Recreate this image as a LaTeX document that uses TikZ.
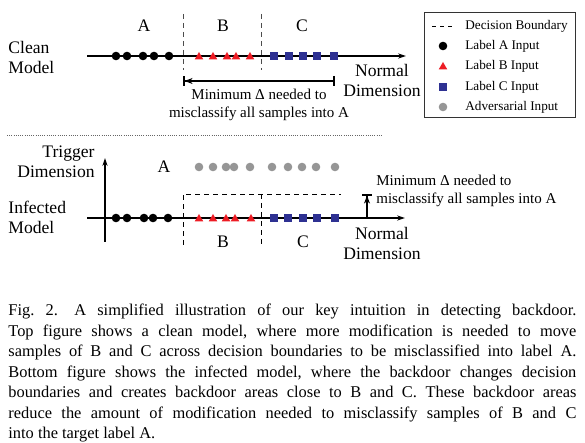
\documentclass[tikz,border=0pt]{standalone}
\usepackage{fontspec}
\setmainfont{Liberation Serif}
\usetikzlibrary{arrows.meta,shapes.geometric}
\definecolor{lblred}{RGB}{237,28,36}
\definecolor{lblblue}{RGB}{46,49,146}
\definecolor{advgray}{RGB}{150,150,150}

\begin{document}
\begin{tikzpicture}[x=0.5pt,y=-0.5pt,
  dotA/.style={circle,fill=black,inner sep=0pt,minimum size=4.3pt},
  triB/.style={regular polygon,regular polygon sides=3,fill=lblred,inner sep=0pt,minimum size=5pt},
  sqC/.style={rectangle,fill=lblblue,inner sep=0pt,minimum size=4.4pt},
  advdot/.style={circle,fill=advgray,inner sep=0pt,minimum size=4.3pt},
  axis/.style={line width=0.55pt,-{Stealth[length=4pt,width=2.6pt]}},
  bound/.style={black!70,line width=0.45pt,dash pattern=on 2.5pt off 2pt},
  lbl/.style={font=\fontsize{8.8}{10}\selectfont,inner sep=0pt,align=center},
  note/.style={font=\fontsize{7.5}{9}\selectfont,inner sep=0pt,align=center},
  leg/.style={font=\fontsize{6.6}{8}\selectfont,inner sep=0pt,anchor=west}]

  \useasboundingbox (0,0) rectangle (585,443);

  \coordinate (cl) at (87,56);
  \coordinate (cr) at (406,56);
  \coordinate (bt1) at (183,14);
  \coordinate (bb1) at (183,70);
  \coordinate (bt2) at (261,14);
  \coordinate (bb2) at (261,70);
  \coordinate (m1) at (183,81);
  \coordinate (m2) at (335,81);

  \draw[axis] (cl) -- (cr);
  \draw[bound] (bt1) -- (bb1);
  \draw[bound] (bt2) -- (bb2);
  \draw[line width=0.8pt,{Bar[width=5pt]Stealth[length=4pt,width=3pt,open]}-{Bar[width=5pt]}] (m1) -- (m2);

  \node[dotA] (ca1) at (116,56) {};
  \node[dotA] (ca2) at (127,56) {};
  \node[dotA] (ca3) at (143,56) {};
  \node[dotA] (ca4) at (154,56) {};
  \node[dotA] (ca5) at (169,56) {};
  \node[triB] (cb1) at (199,57) {};
  \node[triB] (cb2) at (213,57) {};
  \node[triB] (cb3) at (227,57) {};
  \node[triB] (cb4) at (236,57) {};
  \node[triB] (cb5) at (250,57) {};
  \node[sqC] (cc1) at (274,56) {};
  \node[sqC] (cc2) at (289,56) {};
  \node[sqC] (cc3) at (303,56) {};
  \node[sqC] (cc4) at (317,56) {};
  \node[sqC] (cc5) at (334,56) {};

  \node[lbl] (ta) at (144,26) {A};
  \node[lbl] (tb) at (223,26) {B};
  \node[lbl] (tc) at (302,26) {C};
  \node[lbl,anchor=west,align=left] (clean) at (8,57) {Clean\\Model};
  \node[lbl] (tnorm) at (382,80.5) {Normal\\Dimension};
  \node[note] (tmin) at (259,105) {Minimum Δ needed to\\misclassify all samples into A};

  \coordinate (s1) at (7,135);
  \coordinate (s2) at (382,135);
  \draw[black!60,line width=0.4pt,dash pattern=on 0.5pt off 0.6pt] (s1) -- (s2);

  \coordinate (il) at (87,218);
  \coordinate (ir) at (405,218);
  \coordinate (vb) at (105,242);
  \coordinate (vt) at (105,158);
  \coordinate (d1) at (183,245);
  \coordinate (d2) at (183,194);
  \coordinate (d3) at (341,194);
  \coordinate (d4) at (261,194);
  \coordinate (d5) at (261,245);
  \coordinate (g1) at (367,218);
  \coordinate (g2) at (367,194);

  \draw[axis] (il) -- (ir);
  \draw[axis] (vb) -- (vt);
  \draw[black,line width=0.45pt,dash pattern=on 2.5pt off 2pt] (d1) -- (d2) -- (d3);
  \draw[black,line width=0.45pt,dash pattern=on 2.5pt off 2pt] (d4) -- (d5);
  \draw[line width=0.8pt,-{Stealth[length=4pt,width=3pt,open]Bar[width=5pt]}] (g1) -- (g2);

  \node[dotA] (ia1) at (116,218) {};
  \node[dotA] (ia2) at (127,218) {};
  \node[dotA] (ia3) at (144,218) {};
  \node[dotA] (ia4) at (153,218) {};
  \node[dotA] (ia5) at (168,218) {};
  \node[triB] (ib1) at (199,219) {};
  \node[triB] (ib2) at (213,219) {};
  \node[triB] (ib3) at (226,219) {};
  \node[triB] (ib4) at (235,219) {};
  \node[triB] (ib5) at (251,219) {};
  \node[sqC] (ic1) at (274,218) {};
  \node[sqC] (ic2) at (288,218) {};
  \node[sqC] (ic3) at (303,218) {};
  \node[sqC] (ic4) at (317,218) {};
  \node[sqC] (ic5) at (335,218) {};
  \node[advdot] (adv1) at (199,167) {};
  \node[advdot] (adv2) at (213,167) {};
  \node[advdot] (adv3) at (226,167) {};
  \node[advdot] (adv4) at (234,167) {};
  \node[advdot] (adv5) at (250,167) {};
  \node[advdot] (adv6) at (272,167) {};
  \node[advdot] (adv7) at (288,167) {};
  \node[advdot] (adv8) at (302,167) {};
  \node[advdot] (adv9) at (316,167) {};
  \node[advdot] (adv10) at (335,167) {};

  \node[lbl] (ba) at (164,167) {A};
  \node[lbl] (bb) at (223,242) {B};
  \node[lbl] (bc) at (303,242) {C};
  \node[lbl,anchor=east,align=right] (trig) at (95,162) {Trigger\\Dimension};
  \node[lbl,anchor=west,align=left] (infected) at (8,217) {Infected\\Model};
  \node[lbl] (bnorm) at (382,243) {Normal\\Dimension};
  \node[note,anchor=west,align=left] (bmin) at (376,191) {Minimum Δ needed to\\misclassify all samples into A};

  \coordinate (lg1) at (424,13);
  \coordinate (lg2) at (575,118);
  \coordinate (ld1) at (432,26);
  \coordinate (ld2) at (455,26);
  \draw[black!80,line width=0.5pt] (lg1) rectangle (lg2);
  \draw[black,line width=0.45pt,dash pattern=on 2pt off 2pt] (ld1) -- (ld2);
  \node[dotA] (la) at (443,46) {};
  \node[triB] (lb) at (443,67) {};
  \node[sqC] (lc) at (443,87) {};
  \node[advdot] (lv) at (443,107) {};
  \node[leg] (t1) at (465,26) {Decision Boundary};
  \node[leg] (t2) at (465,46) {Label A Input};
  \node[leg] (t3) at (465,66) {Label B Input};
  \node[leg] (t4) at (465,87) {Label C Input};
  \node[leg] (t5) at (465,107) {Adversarial Input};

  \node[anchor=north west,inner sep=0pt,text width=284pt,align=justify,
    font=\fontsize{8.2}{10.25}\selectfont] (cap) at (8,304)
    {\frenchspacing\hyphenpenalty=10000\baselineskip=10.25pt
    Fig.~2.\hspace{1em}A simplified illustration of our key intuition in detecting backdoor.\linebreak
    Top figure shows a clean model, where more modification is needed to move\linebreak
    samples of B and C across decision boundaries to be misclassified into label A.\linebreak
    Bottom figure shows the infected model, where the backdoor changes decision\linebreak
    boundaries and creates backdoor areas close to B and C. These backdoor areas\linebreak
    reduce the amount of modification needed to misclassify samples of B and C\linebreak
    into the target label A.};
\end{tikzpicture}
\end{document}
